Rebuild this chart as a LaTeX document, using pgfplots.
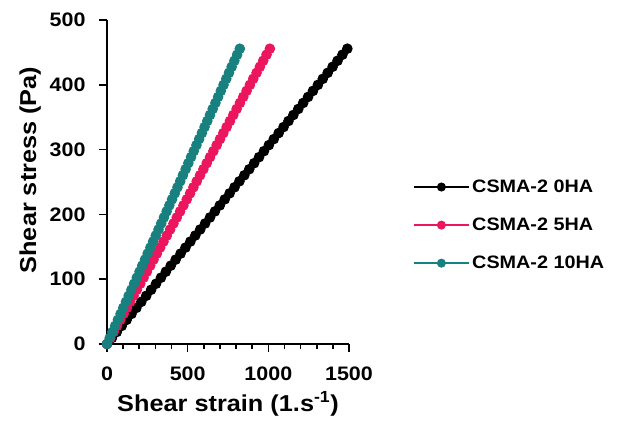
\documentclass[border=0pt]{standalone}
\usepackage{pgfplots}
\pgfplotsset{compat=1.18}
\usepackage{pgfplotstable}
\usepackage{fontspec}
\setmainfont{Liberation Sans}
\newfontfamily\wfont[FakeStretch=1.1]{Liberation Sans}
\definecolor{cpink}{RGB}{236,22,94}
\definecolor{cteal}{RGB}{24,128,126}
\pgfplotstableread{
s b p t
0 0 0 0
9.3 30.4 20.6 16.8
18.6 60.8 41.2 33.6
27.9 91.2 61.8 50.4
37.2 121.6 82.4 67.2
46.5 152 103 84
55.8 182.4 123.6 100.8
65.1 212.8 144.2 117.6
74.4 243.2 164.8 134.4
83.7 273.6 185.4 151.2
93 304 206 168
102.3 334.4 226.6 184.8
111.6 364.8 247.2 201.6
120.9 395.2 267.8 218.4
130.2 425.6 288.4 235.2
139.5 456 309 252
148.8 486.4 329.6 268.8
158.1 516.8 350.2 285.6
167.4 547.2 370.8 302.4
176.7 577.6 391.4 319.2
186 608 412 336
195.3 638.4 432.6 352.8
204.6 668.8 453.2 369.6
213.9 699.2 473.8 386.4
223.2 729.6 494.4 403.2
232.5 760 515 420
241.8 790.4 535.6 436.8
251.1 820.8 556.2 453.6
260.4 851.2 576.8 470.4
269.7 881.6 597.4 487.2
279 912 618 504
288.3 942.4 638.6 520.8
297.6 972.8 659.2 537.6
306.9 1003.2 679.8 554.4
316.2 1033.6 700.4 571.2
325.5 1064 721 588
334.8 1094.4 741.6 604.8
344.1 1124.8 762.2 621.6
353.4 1155.2 782.8 638.4
362.7 1185.6 803.4 655.2
372 1216 824 672
381.3 1246.4 844.6 688.8
390.6 1276.8 865.2 705.6
399.9 1307.2 885.8 722.4
409.2 1337.6 906.4 739.2
418.5 1368 927 756
427.8 1398.4 947.6 772.8
437.1 1428.8 968.2 789.6
446.4 1459.2 988.8 806.4
455.7 1489.6 1009.4 823.2
}\datatab
\begin{document}
\begin{tikzpicture}
\path[use as bounding box] (-107pt,-84pt) rectangle (510pt,344pt);
\begin{axis}[
  at={(0pt,0pt)}, anchor=origin,
  scale only axis, width=242pt, height=324pt,
  xmin=0, xmax=1500, ymin=0, ymax=500,
  axis lines=left,
  axis line style={-, line width=2.2pt},
  xtick={0,500,1000,1500}, ytick={0,100,200,300,400,500},
  minor x tick num=4,
  tick style={line width=1.6pt, black},
  tick align=outside,
  major tick length=8pt, minor tick length=5pt,
  /pgf/number format/assume math mode=true,
  /pgf/number format/1000 sep={},
  ticklabel style={font=\wfont\fontsize{19.5}{22}\selectfont\bfseries},
  xticklabel style={yshift=-11pt},
  yticklabel style={xshift=-10pt},
  xlabel={Shear strain (1.s\textsuperscript{-1})},
  ylabel={Shear stress (Pa)},
  label style={font=\wfont\fontsize{23}{26}\selectfont\bfseries},
  xlabel style={yshift=-4pt},
  ylabel style={yshift=2pt, xshift=12pt},
  clip=false,
  legend style={at={(1.262,0.367)}, anchor=west, draw=none, fill=none,
    font=\wfont\fontsize{18}{20}\selectfont\bfseries, row sep=20pt,
    legend cell align=left, inner sep=0pt},
  legend image code/.code={
    \draw[line width=2.6pt] (0pt,0pt) -- (55pt,0pt);
    \fill (27.5pt,0pt) circle (4pt);
  },
]
\addplot[black, line width=1pt, mark=*, mark size=4.8pt] table[x=b, y=s] {\datatab};
\addlegendentry{CSMA-2 0HA}
\addplot[cpink, line width=1pt, mark=*, mark size=4.8pt] table[x=p, y=s] {\datatab};
\addlegendentry{CSMA-2 5HA}
\addplot[cteal, line width=1pt, mark=*, mark size=4.8pt] table[x=t, y=s] {\datatab};
\addlegendentry{CSMA-2 10HA}
\end{axis}
\end{tikzpicture}
\end{document}
